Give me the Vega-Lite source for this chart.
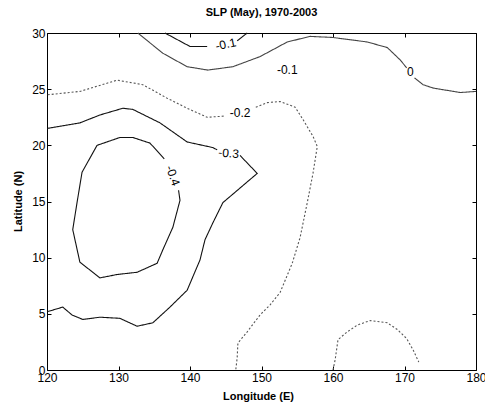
{
  "$schema": "https://vega.github.io/schema/vega-lite/v6.json",
  "width": 429,
  "height": 337,
  "autosize": {"type": "none"},
  "padding": {"left": 47, "top": 33, "right": 9, "bottom": 37},
  "background": "white",
  "config": {
    "font": "Liberation Sans",
    "view": {"stroke": "black", "strokeWidth": 1},
    "axis": {"grid": false, "domain": false, "tickColor": "black", "labelColor": "black", "titleColor": "black", "labelFontSize": 12, "titleFontSize": 11, "titleFontWeight": "bold", "tickSize": -4, "labelPadding": 6, "labelFlush": false, "labelOverlap": false}
  },
  "title": {"text": "SLP (May), 1970-2003", "fontSize": 11, "fontWeight": "bold", "offset": 9, "color": "black", "anchor": "middle"},
  "datasets": {
    "contours": [
      {"id": "c0", "style": "thin", "ord": 1, "lon": 132.7, "lat": 30.0},
      {"id": "c0", "style": "thin", "ord": 2, "lon": 136.2, "lat": 28.2},
      {"id": "c0", "style": "thin", "ord": 3, "lon": 139.6, "lat": 27.0},
      {"id": "c0", "style": "thin", "ord": 4, "lon": 142.5, "lat": 26.7},
      {"id": "c0", "style": "thin", "ord": 5, "lon": 146.0, "lat": 27.0},
      {"id": "c0", "style": "thin", "ord": 6, "lon": 149.8, "lat": 27.9},
      {"id": "c0", "style": "thin", "ord": 7, "lon": 153.6, "lat": 29.2},
      {"id": "c0", "style": "thin", "ord": 8, "lon": 156.8, "lat": 29.7},
      {"id": "c0", "style": "thin", "ord": 9, "lon": 160.0, "lat": 29.6},
      {"id": "c0", "style": "thin", "ord": 10, "lon": 164.8, "lat": 29.2},
      {"id": "c0", "style": "thin", "ord": 11, "lon": 167.6, "lat": 28.7},
      {"id": "c0", "style": "thin", "ord": 12, "lon": 169.4, "lat": 27.6},
      {"id": "c0", "style": "thin", "ord": 13, "lon": 170.3, "lat": 26.9},
      {"id": "c0b", "style": "thin", "ord": 1, "lon": 171.4, "lat": 26.0},
      {"id": "c0b", "style": "thin", "ord": 2, "lon": 172.6, "lat": 25.4},
      {"id": "c0b", "style": "thin", "ord": 3, "lon": 174.0, "lat": 25.1},
      {"id": "c0b", "style": "thin", "ord": 4, "lon": 177.8, "lat": 24.7},
      {"id": "c0b", "style": "thin", "ord": 5, "lon": 180.0, "lat": 24.8},
      {"id": "c1", "style": "solid", "ord": 1, "lon": 136.5, "lat": 30.0},
      {"id": "c1", "style": "solid", "ord": 2, "lon": 140.0, "lat": 28.8},
      {"id": "c1", "style": "solid", "ord": 3, "lon": 142.4, "lat": 28.8},
      {"id": "c1b", "style": "solid", "ord": 1, "lon": 146.6, "lat": 29.3},
      {"id": "c1b", "style": "solid", "ord": 2, "lon": 148.0, "lat": 30.0},
      {"id": "c2", "style": "dotted", "ord": 1, "lon": 120.1, "lat": 24.5},
      {"id": "c2", "style": "dotted", "ord": 2, "lon": 124.6, "lat": 24.8},
      {"id": "c2", "style": "dotted", "ord": 3, "lon": 129.8, "lat": 25.8},
      {"id": "c2", "style": "dotted", "ord": 4, "lon": 133.4, "lat": 25.4},
      {"id": "c2", "style": "dotted", "ord": 5, "lon": 136.8, "lat": 24.2},
      {"id": "c2", "style": "dotted", "ord": 6, "lon": 139.6, "lat": 23.3},
      {"id": "c2", "style": "dotted", "ord": 7, "lon": 142.4, "lat": 22.5},
      {"id": "c2", "style": "dotted", "ord": 8, "lon": 144.8, "lat": 22.6},
      {"id": "c2b", "style": "dotted", "ord": 1, "lon": 149.2, "lat": 23.4},
      {"id": "c2b", "style": "dotted", "ord": 2, "lon": 150.8, "lat": 23.8},
      {"id": "c2b", "style": "dotted", "ord": 3, "lon": 152.6, "lat": 23.9},
      {"id": "c2b", "style": "dotted", "ord": 4, "lon": 154.7, "lat": 23.4},
      {"id": "c2b", "style": "dotted", "ord": 5, "lon": 155.8, "lat": 22.3},
      {"id": "c2b", "style": "dotted", "ord": 6, "lon": 157.2, "lat": 20.8},
      {"id": "c2b", "style": "dotted", "ord": 7, "lon": 157.8, "lat": 19.9},
      {"id": "c2b", "style": "dotted", "ord": 8, "lon": 157.2, "lat": 17.5},
      {"id": "c2b", "style": "dotted", "ord": 9, "lon": 156.4, "lat": 14.9},
      {"id": "c2b", "style": "dotted", "ord": 10, "lon": 155.4, "lat": 11.8},
      {"id": "c2b", "style": "dotted", "ord": 11, "lon": 154.3, "lat": 9.5},
      {"id": "c2b", "style": "dotted", "ord": 12, "lon": 152.6, "lat": 6.9},
      {"id": "c2b", "style": "dotted", "ord": 13, "lon": 151.2, "lat": 5.8},
      {"id": "c2b", "style": "dotted", "ord": 14, "lon": 149.8, "lat": 4.9},
      {"id": "c2b", "style": "dotted", "ord": 15, "lon": 148.0, "lat": 3.4},
      {"id": "c2b", "style": "dotted", "ord": 16, "lon": 146.7, "lat": 2.4},
      {"id": "c2b", "style": "dotted", "ord": 17, "lon": 146.6, "lat": 1.1},
      {"id": "c2b", "style": "dotted", "ord": 18, "lon": 146.4, "lat": 0.0},
      {"id": "c3", "style": "solid", "ord": 1, "lon": 120.0, "lat": 21.5},
      {"id": "c3", "style": "solid", "ord": 2, "lon": 124.6, "lat": 22.0},
      {"id": "c3", "style": "solid", "ord": 3, "lon": 127.4, "lat": 22.7},
      {"id": "c3", "style": "solid", "ord": 4, "lon": 130.6, "lat": 23.3},
      {"id": "c3", "style": "solid", "ord": 5, "lon": 132.0, "lat": 23.2},
      {"id": "c3", "style": "solid", "ord": 6, "lon": 135.8, "lat": 22.0},
      {"id": "c3", "style": "solid", "ord": 7, "lon": 139.6, "lat": 20.3},
      {"id": "c3", "style": "solid", "ord": 8, "lon": 143.2, "lat": 19.8},
      {"id": "c3", "style": "solid", "ord": 9, "lon": 143.8, "lat": 19.6},
      {"id": "c3b", "style": "solid", "ord": 1, "lon": 147.0, "lat": 19.1},
      {"id": "c3b", "style": "solid", "ord": 2, "lon": 149.4, "lat": 17.5},
      {"id": "c3b", "style": "solid", "ord": 3, "lon": 144.6, "lat": 14.9},
      {"id": "c3b", "style": "solid", "ord": 4, "lon": 143.2, "lat": 13.1},
      {"id": "c3b", "style": "solid", "ord": 5, "lon": 142.1, "lat": 11.6},
      {"id": "c3b", "style": "solid", "ord": 6, "lon": 141.4, "lat": 9.8},
      {"id": "c3b", "style": "solid", "ord": 7, "lon": 139.6, "lat": 7.1},
      {"id": "c3b", "style": "solid", "ord": 8, "lon": 137.2, "lat": 5.6},
      {"id": "c3b", "style": "solid", "ord": 9, "lon": 134.8, "lat": 4.2},
      {"id": "c3b", "style": "solid", "ord": 10, "lon": 132.6, "lat": 3.9},
      {"id": "c3b", "style": "solid", "ord": 11, "lon": 130.2, "lat": 4.6},
      {"id": "c3b", "style": "solid", "ord": 12, "lon": 127.4, "lat": 4.7},
      {"id": "c3b", "style": "solid", "ord": 13, "lon": 125.0, "lat": 4.5},
      {"id": "c3b", "style": "solid", "ord": 14, "lon": 123.5, "lat": 4.9},
      {"id": "c3b", "style": "solid", "ord": 15, "lon": 122.2, "lat": 5.6},
      {"id": "c3b", "style": "solid", "ord": 16, "lon": 120.1, "lat": 5.2},
      {"id": "c4", "style": "solid", "ord": 1, "lon": 136.4, "lat": 18.8},
      {"id": "c4", "style": "solid", "ord": 2, "lon": 134.4, "lat": 20.2},
      {"id": "c4", "style": "solid", "ord": 3, "lon": 132.0, "lat": 20.7},
      {"id": "c4", "style": "solid", "ord": 4, "lon": 130.2, "lat": 20.7},
      {"id": "c4", "style": "solid", "ord": 5, "lon": 127.0, "lat": 20.0},
      {"id": "c4", "style": "solid", "ord": 6, "lon": 124.9, "lat": 17.6},
      {"id": "c4", "style": "solid", "ord": 7, "lon": 124.2, "lat": 14.9},
      {"id": "c4", "style": "solid", "ord": 8, "lon": 123.6, "lat": 12.5},
      {"id": "c4", "style": "solid", "ord": 9, "lon": 124.6, "lat": 9.6},
      {"id": "c4", "style": "solid", "ord": 10, "lon": 127.4, "lat": 8.2},
      {"id": "c4", "style": "solid", "ord": 11, "lon": 129.8, "lat": 8.5},
      {"id": "c4", "style": "solid", "ord": 12, "lon": 132.6, "lat": 8.7},
      {"id": "c4", "style": "solid", "ord": 13, "lon": 135.4, "lat": 9.5},
      {"id": "c4", "style": "solid", "ord": 14, "lon": 136.2, "lat": 10.7},
      {"id": "c4", "style": "solid", "ord": 15, "lon": 137.6, "lat": 12.7},
      {"id": "c4", "style": "solid", "ord": 16, "lon": 138.6, "lat": 15.1},
      {"id": "c4", "style": "solid", "ord": 17, "lon": 138.4, "lat": 16.0},
      {"id": "c5", "style": "dotted", "ord": 1, "lon": 160.0, "lat": 0.0},
      {"id": "c5", "style": "dotted", "ord": 2, "lon": 160.3, "lat": 0.9},
      {"id": "c5", "style": "dotted", "ord": 3, "lon": 160.7, "lat": 2.7},
      {"id": "c5", "style": "dotted", "ord": 4, "lon": 162.0, "lat": 3.4},
      {"id": "c5", "style": "dotted", "ord": 5, "lon": 163.4, "lat": 4.0},
      {"id": "c5", "style": "dotted", "ord": 6, "lon": 165.2, "lat": 4.4},
      {"id": "c5", "style": "dotted", "ord": 7, "lon": 167.6, "lat": 4.2},
      {"id": "c5", "style": "dotted", "ord": 8, "lon": 169.0, "lat": 3.6},
      {"id": "c5", "style": "dotted", "ord": 9, "lon": 170.3, "lat": 2.8},
      {"id": "c5", "style": "dotted", "ord": 10, "lon": 171.2, "lat": 1.8},
      {"id": "c5", "style": "dotted", "ord": 11, "lon": 172.0, "lat": 0.7}
    ],
    "labels": [
      {"label": "-0.1", "lon": 145.0, "lat": 29.0, "angle": -12},
      {"label": "-0.1", "lon": 153.6, "lat": 26.7, "angle": 0},
      {"label": "0", "lon": 170.8, "lat": 26.5, "angle": 0},
      {"label": "-0.2", "lon": 147.0, "lat": 22.9, "angle": 0},
      {"label": "-0.3", "lon": 145.4, "lat": 19.3, "angle": 5},
      {"label": "-0.4", "lon": 137.6, "lat": 17.3, "angle": 70}
    ]
  },
  "resolve": {"axis": {"x": "independent", "y": "independent"}},
  "layer": [
    {
      "data": {"name": "contours"},
      "mark": {"type": "line", "strokeWidth": 1.1, "interpolate": "linear"},
      "encoding": {
        "x": {"field": "lon", "type": "quantitative", "scale": {"domain": [120, 180], "nice": false, "zero": false}, "axis": {"orient": "bottom", "values": [120, 130, 140, 150, 160, 170, 180], "title": "Longitude (E)", "titleBaseline": "alphabetic", "titleY": 29, "titleX": 211}},
        "y": {"field": "lat", "type": "quantitative", "scale": {"domain": [0, 30], "nice": false, "zero": false}, "axis": {"orient": "left", "values": [0, 5, 10, 15, 20, 25, 30], "title": "Latitude (N)", "titleBaseline": "alphabetic", "titleX": -26, "titleY": 168, "titleAngle": -90}},
        "detail": {"field": "id", "type": "nominal"},
        "order": {"field": "ord", "type": "quantitative"},
        "strokeDash": {"field": "style", "type": "nominal", "scale": {"domain": ["solid", "thin", "dotted"], "range": [[1, 0], [1, 0], [2, 2]]}, "legend": null},
        "color": {"field": "style", "type": "nominal", "scale": {"domain": ["solid", "thin", "dotted"], "range": ["#111111", "#444444", "#555555"]}, "legend": null}
      }
    },
    {
      "data": {"name": "labels"},
      "mark": {"type": "text", "fontSize": 12, "color": "black", "align": "center", "baseline": "middle"},
      "encoding": {
        "x": {"field": "lon", "type": "quantitative", "scale": {"domain": [120, 180], "nice": false, "zero": false}, "axis": {"orient": "top", "values": [120, 130, 140, 150, 160, 170, 180], "labels": false, "title": null}},
        "y": {"field": "lat", "type": "quantitative", "scale": {"domain": [0, 30], "nice": false, "zero": false}, "axis": {"orient": "right", "values": [0, 5, 10, 15, 20, 25, 30], "labels": false, "title": null}},
        "text": {"field": "label", "type": "nominal"},
        "angle": {"field": "angle", "type": "quantitative", "scale": null}
      }
    }
  ]
}
